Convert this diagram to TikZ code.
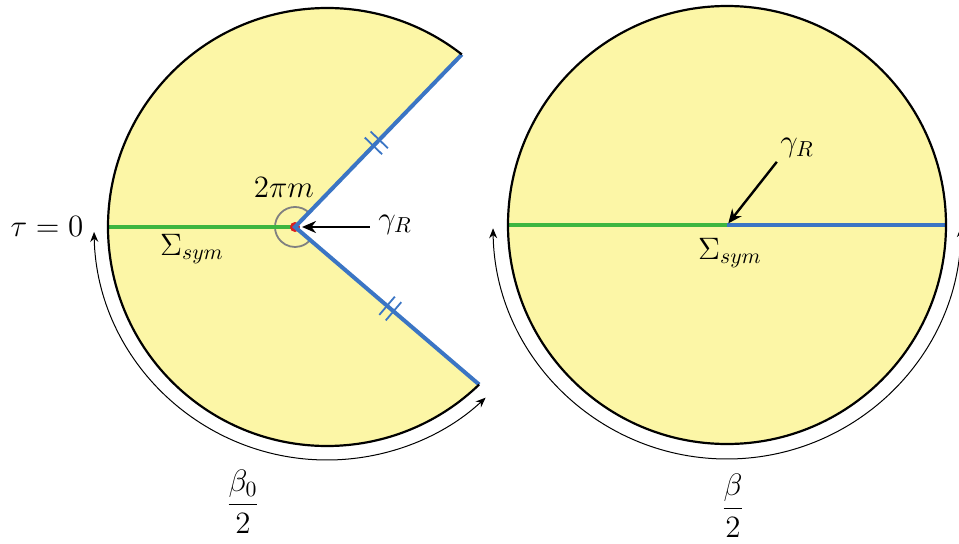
\RequirePackage{fix-cm}
\documentclass[tikz,border=0pt]{standalone}
\usetikzlibrary{arrows.meta,calc}
\definecolor{diskfill}{RGB}{252,246,166}
\definecolor{symgreen}{RGB}{61,182,64}
\definecolor{cutblue}{RGB}{59,117,196}
\definecolor{markgray}{RGB}{128,128,128}
\definecolor{dotred}{RGB}{220,30,30}
\begin{document}
\begin{tikzpicture}[x=0.5pt,y=0.5pt,
  outline/.style={line width=1.1pt,black},
  greenline/.style={line width=2pt,symgreen},
  blueline/.style={line width=2pt,cutblue},
  tickmark/.style={line width=0.9pt,cutblue},
  pointer/.style={line width=1.2pt,-{Stealth[length=7pt,width=6pt]}},
  period/.style={line width=0.5pt,{Stealth[length=5pt,width=4pt]}-{Stealth[length=5pt,width=4pt]}},
  lbl/.style={font=\fontsize{15.5}{18}\selectfont, inner sep=0pt}]
\useasboundingbox (0,0) rectangle (959,543);

% ---------- left disk ----------
\coordinate (C1) at (327,316);
\coordinate (V) at (295,316);
\coordinate (P) at ($(C1)+(52:219)$);
\coordinate (Q) at ($(C1)+(314:219)$);
\coordinate (L1) at ($(C1)+(180:219)$);
\fill[diskfill] (V) -- (P) arc[start angle=52,end angle=314,radius=219] -- cycle;
\draw[markgray, line width=0.9pt] (V) ++(46:20) arc[start angle=46,end angle=320,radius=20];
\draw[greenline] (L1) -- (V);
\fill[dotred] (V) circle[radius=5];
\draw[blueline] (P) -- (V) -- (Q);
\draw[outline] (P) arc[start angle=52,end angle=314,radius=219];

% tick marks
\path (V) -- (P) coordinate[pos=0.47] (ta) coordinate[pos=0.505] (tb);
\draw[tickmark] (ta) ++(136:12) -- ++(316:24);
\draw[tickmark] (tb) ++(136:12) -- ++(316:24);
\path (V) -- (Q) coordinate[pos=0.50] (tc) coordinate[pos=0.535] (td);
\draw[tickmark] (tc) ++(49.6:12) -- ++(229.6:24);
\draw[tickmark] (td) ++(49.6:12) -- ++(229.6:24);

% labels left
\node[lbl, anchor=base] (tm) at (284,346) {$2\pi m$};
\node[lbl, anchor=base] (gl) at (395,315) {$\gamma_R$};
\draw[pointer, shorten <=4pt, shorten >=3.5pt] (gl.west |- V) -- (V);
\node[lbl, anchor=base] (sl) at (192,288) {$\Sigma_{sym}$};
\node[lbl] (tau) at (47,316) {$\tau = 0$};
\draw[period] ($(C1)+(181.2:233)$) arc[start angle=181.2,end angle=312.9,radius=233];
\node[lbl] (b0) at (243,41) {$\displaystyle\frac{\beta_0}{2}$};

% ---------- right disk ----------
\coordinate (C2) at (727,318);
\coordinate (L2) at ($(C2)+(180:219)$);
\coordinate (R2) at ($(C2)+(0:219)$);
\fill[diskfill] (C2) circle[radius=219];
\draw[greenline] (L2) -- (C2);
\draw[blueline] (C2) -- (R2);
\draw[outline] (C2) circle[radius=219];

\node[lbl, anchor=base] (gr) at (797,391.5) {$\gamma_R$};
\draw[pointer, shorten <=2.5pt, shorten >=1pt] (gr.south west) -- (C2);
\node[lbl, anchor=base] (sr) at (730,284) {$\Sigma_{sym}$};
\draw[period] ($(C2)+(180.8:234)$) arc[start angle=180.8,end angle=359.5,radius=234];
\node[lbl] (b1) at (733,37) {$\displaystyle\frac{\beta}{2}$};
\end{tikzpicture}
\end{document}
